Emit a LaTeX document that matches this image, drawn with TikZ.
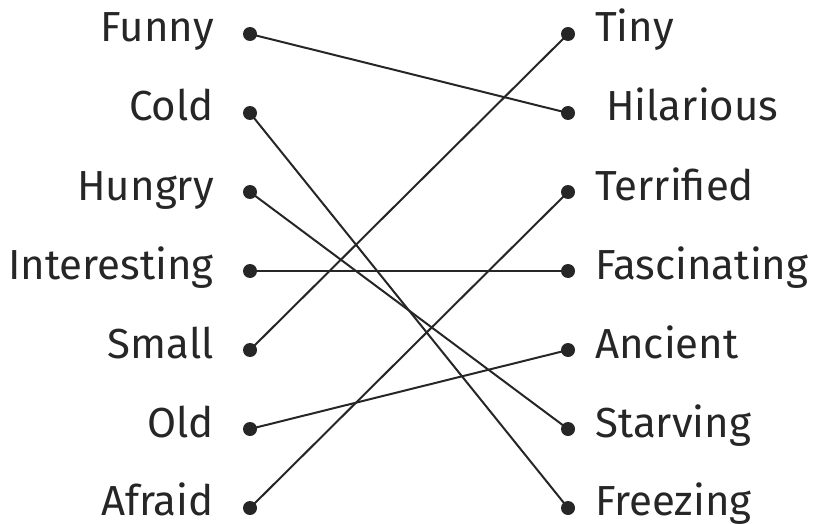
\documentclass[tikz,border=0pt]{standalone}
\usepackage{fontspec}
\setmainfont{Fira Sans}
\usepackage{tikz}

\definecolor{inkgrey}{RGB}{38,38,38}

\tikzset{
  worddot/.style={circle,fill=inkgrey,inner sep=0pt,minimum size=10.5pt},
  wordlbl/.style={inner sep=0pt,text=inkgrey,font=\fontsize{31.5}{36}\selectfont},
  matchline/.style={color=inkgrey,line width=1.5pt}
}

\begin{document}
\begin{tikzpicture}[x=0.75pt,y=0.75pt,yscale=-1,xscale=1]
        \useasboundingbox (0,0) rectangle (813,524);

        % Left dots
        \node [worddot] (funny) at (250,34) {};
        \node [worddot] (cold) at (250,113) {};
        \node [worddot] (hungry) at (250,192) {};
        \node [worddot] (interesting) at (250,271) {};
        \node [worddot] (small) at (250,350) {};
        \node [worddot] (old) at (250,429) {};
        \node [worddot] (afraid) at (250,508) {};
        % Right dots
        \node [worddot] (tiny) at (568,34) {};
        \node [worddot] (hilarious) at (568,113) {};
        \node [worddot] (terrified) at (568,192) {};
        \node [worddot] (fascinating) at (568,271) {};
        \node [worddot] (ancient) at (568,350) {};
        \node [worddot] (starving) at (568,429) {};
        \node [worddot] (freezing) at (568,508) {};

        % Text Node
        \node [wordlbl,anchor=base east] (tfunny) at (214,42) {Funny};
        \node [wordlbl,anchor=base east] (tcold) at (214,121) {Cold};
        \node [wordlbl,anchor=base east] (thungry) at (214,200) {Hungry};
        \node [wordlbl,anchor=base east] (tinteresting) at (214,279) {Interesting};
        \node [wordlbl,anchor=base east] (tsmall) at (214,358) {Small};
        \node [wordlbl,anchor=base east] (told) at (214,437) {Old};
        \node [wordlbl,anchor=base east] (tafraid) at (214,515) {Afraid};
        % Text Node
        \node [wordlbl,anchor=base west] (ttiny) at (595,42) {Tiny};
        \node [wordlbl,anchor=base west] (thilarious) at (595,121) {\ Hilarious};
        \node [wordlbl,anchor=base west] (tterrified) at (595,200) {Terrified};
        \node [wordlbl,anchor=base west] (tfascinating) at (595,279) {Fascinating};
        \node [wordlbl,anchor=base west] (tancient) at (595,358) {Ancient};
        \node [wordlbl,anchor=base west] (tstarving) at (595,437) {Starving};
        \node [wordlbl,anchor=base west] (tfreezing) at (595,515) {Freezing};

        % Straight Lines
        \draw [matchline] (funny.center) -- (hilarious.center) ;
        \draw [matchline] (cold.center) -- (freezing.center) ;
        \draw [matchline] (hungry.center) -- (starving.center) ;
        \draw [matchline] (interesting.center) -- (fascinating.center) ;
        \draw [matchline] (small.center) -- (tiny.center) ;
        \draw [matchline] (old.center) -- (ancient.center) ;
        \draw [matchline] (afraid.center) -- (terrified.center) ;

\end{tikzpicture}
\end{document}
